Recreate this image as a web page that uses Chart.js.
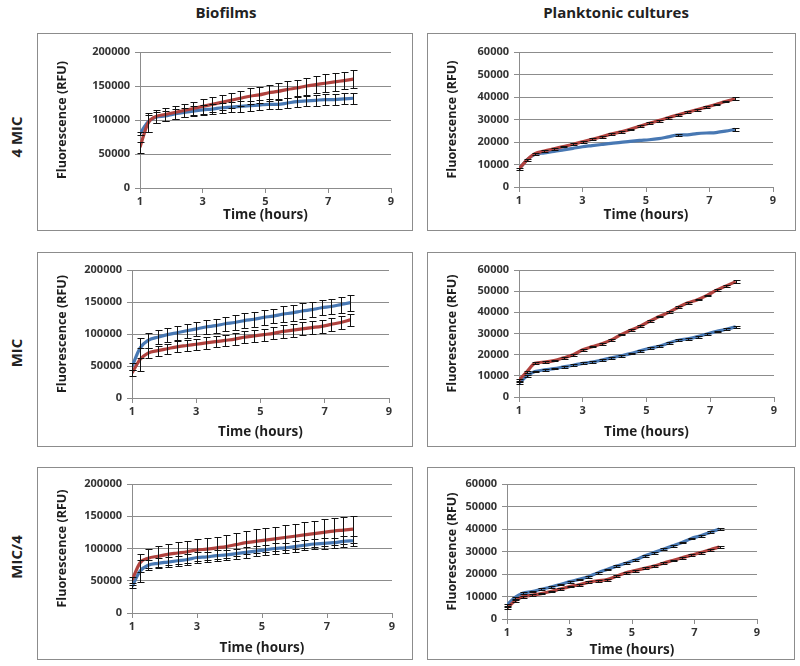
<!DOCTYPE html>
<html><head><meta charset="utf-8">
<script src="https://cdn.jsdelivr.net/npm/chart.js@4/dist/chart.umd.min.js"></script>
<style>
body{margin:0;width:800px;height:666px;background:#fff;position:relative;overflow:hidden;font-family:"Open Sans",sans-serif;}
.box{position:absolute;border:1px solid #8c8c8c;box-sizing:border-box;background:#fff;}
.box canvas{position:absolute;left:0;top:0;}
.hdr{position:absolute;font-weight:700;font-size:15px;color:#222;transform:translate(-50%,-50%);white-space:nowrap;}
.row{position:absolute;font-weight:700;font-size:15px;color:#222;transform:translate(-50%,-50%) rotate(-90deg);white-space:nowrap;}
</style></head>
<body>
<div class="hdr" style="left:226px;top:12px">Biofilms</div>
<div class="hdr" style="left:616px;top:12px">Planktonic cultures</div>
<div class="row" style="left:16px;top:137px">4 MIC</div>
<div class="row" style="left:16px;top:353px">MIC</div>
<div class="row" style="left:16px;top:557px">MIC/4</div>
<script>
// ---- data ----
const hours = [1.0,1.25,1.5,1.8,2.1,2.4,2.7,3.0,3.3,3.6,3.9,4.2,4.5,4.8,5.1,5.4,5.7,6.0,6.3,6.6,6.9,7.2,7.5,7.8];
const xTicks = [1,3,5,7,9];
const yTicksBiofilm = [0,50000,100000,150000,200000];
const yTicksPlank = [0,10000,20000,30000,40000,50000,60000];

// Biofilms, 4 MIC
const bio4_red = [60000,95000,105000,108000,111000,114000,117000,120000,123000,126000,129000,132000,135000,137000,140000,142000,145000,147000,150000,152000,154000,156000,158000,160000];
const bio4_redErr = [8000,12000,10000,9000,9500,10000,10000,10500,10500,11000,11000,11000,11500,11500,12000,12000,12000,12500,12500,13000,13000,13000,13000,13000];
const bio4_blue = [80000,97000,104000,106000,109000,111000,113000,115000,116000,118000,119000,120000,121000,122000,123000,123000,125000,127000,128000,129000,130000,130000,131000,132000];
const bio4_blueErr = [2000,14000,8000,7000,7000,7000,7000,7000,7000,7000,7500,7500,7500,7500,7500,7500,8000,8000,8000,8000,8000,8000,8000,8000];

// Planktonic, 4 MIC
const pl4_red = [8000,12000,14800,16000,17000,18000,19000,20100,21200,22300,23500,24500,25600,27000,28300,29500,30800,32000,33200,34300,35500,36700,38000,39200];
const pl4_redErr = [400,500,400,400,400,400,400,400,400,400,400,400,400,400,400,400,400,400,400,400,400,400,400,600];
const pl4_blue = [8000,12000,14500,15200,15800,16500,17200,17900,18400,18900,19400,19800,20300,20700,21000,21500,22300,23100,23200,23700,24000,24200,24800,25600];
const pl4_blueErr = [0,0,0,0,0,0,0,0,0,0,0,0,0,0,0,0,0,400,0,0,0,0,0,500];

// Biofilms, MIC
const bioM_blue = [49000,78000,90000,95000,99000,102000,105000,108000,111000,113000,116000,118000,121000,123000,126000,128000,131000,133000,136000,138000,141000,143000,146000,149000];
const bioM_blueErr = [5000,15000,12000,11000,11000,11000,11000,11000,11000,11000,11000,11000,11500,11500,11500,11500,12000,12000,12000,12000,12000,12000,12500,12500];
const bioM_red = [39000,60000,70000,74000,77000,80000,82000,84000,86000,88000,90000,92000,95000,97000,99000,101000,104000,106000,108000,110000,112000,115000,118000,122000];
const bioM_redErr = [4000,18000,8000,8000,8000,8500,8500,8500,9000,9000,9000,9000,9500,9500,9500,9500,10000,10000,10000,10000,10000,10000,10000,10000];

// Planktonic, MIC
const plM_red = [8000,12000,15900,16500,17200,18500,20000,22300,23800,25200,27000,29500,31500,33500,35800,38000,40000,42400,44500,46000,48000,50500,52500,54500];
const plM_redErr = [400,500,500,400,400,400,400,400,400,400,400,400,400,400,400,400,400,400,400,400,400,400,400,600];
const plM_blue = [6500,10000,12000,12800,13400,14200,15000,15900,16500,17500,18500,19500,20500,21800,23000,24000,25500,26800,27500,28500,29800,31000,32000,33200];
const plM_blueErr = [400,400,400,400,400,400,400,400,400,400,400,400,400,400,400,400,400,400,400,400,400,400,400,500];

// Biofilms, MIC/4
const bioQ_red = [51000,78000,85000,88000,91000,93000,95000,97700,99000,101000,103000,106000,109000,111000,113000,115000,117000,119000,121000,123000,125000,127000,128500,130000];
const bioQ_redErr = [5000,14000,15000,16000,16000,16500,17000,17000,17500,17500,18000,18000,18000,18500,18500,19000,19000,19500,20000,20000,20500,21000,21000,21000];
const bioQ_blue = [41000,65000,74000,77000,79000,81000,83000,86000,87000,89000,90000,92000,94000,96000,98000,100000,101000,103000,105000,107000,108000,109000,111000,112000];
const bioQ_blueErr = [3000,17000,8000,8000,8000,8000,8000,8000,8000,8000,8000,8000,8000,8000,8000,8000,8000,8000,8000,8000,8000,8000,8000,8000];

// Planktonic, MIC/4
const plQ_blue = [6200,9500,11400,12200,13200,14200,15300,16600,17600,18800,20500,22000,23500,24800,26200,28000,29500,31000,32500,34000,35800,37000,38500,40000];
const plQ_blueErr = [500,500,500,400,400,400,400,400,400,400,400,400,400,400,400,400,400,400,400,400,400,400,400,500];
const plQ_red = [4800,8000,9900,10600,11300,12200,13300,14400,15200,16300,17000,17500,19000,20500,21500,22500,23500,24800,26000,27200,28400,29500,30800,32000];
const plQ_redErr = [400,500,400,400,400,400,400,400,400,400,400,400,400,400,400,400,400,400,400,400,400,400,400,500];

// ---- layout / style ----
const RED = '#b0423e', BLUE = '#4878b3', GRID = '#8c8c8c', TICK = '#333333', TITLE = '#1e1e1e';
const FONT = '"Open Sans", sans-serif';

const panels = [
  {box:[37,33,376,198], area:[140,52,391,188], yTicks:yTicksBiofilm, ymax:200000, xTitleUp:16,
   red:bio4_red, redErr:bio4_redErr, blue:bio4_blue, blueErr:bio4_blueErr},
  {box:[427,33,369,198], area:[519,52,773,187], yTicks:yTicksPlank, ymax:60000, xTitleUp:16,
   red:pl4_red, redErr:pl4_redErr, blue:pl4_blue, blueErr:pl4_blueErr},
  {box:[37,252,376,195], area:[132,270,389,398], yTicks:yTicksBiofilm, ymax:200000, xTitleUp:15,
   red:bioM_red, redErr:bioM_redErr, blue:bioM_blue, blueErr:bioM_blueErr},
  {box:[427,252,369,195], area:[519,270,774,397], yTicks:yTicksPlank, ymax:60000, xTitleUp:15,
   red:plM_red, redErr:plM_redErr, blue:plM_blue, blueErr:plM_blueErr},
  {box:[37,467,376,193], area:[132,484,392,613], yTicks:yTicksBiofilm, ymax:200000, xTitleUp:12,
   red:bioQ_red, redErr:bioQ_redErr, blue:bioQ_blue, blueErr:bioQ_blueErr},
  {box:[427,467,368,193], area:[507,484,757,619], yTicks:yTicksPlank, ymax:60000, xTitleUp:10,
   red:plQ_red, redErr:plQ_redErr, blue:plQ_blue, blueErr:plQ_blueErr}
];

const errorBars = {
  id:'errorBars',
  afterDatasetsDraw(chart){
    const {ctx, scales:{x, y}} = chart;
    ctx.save();
    ctx.strokeStyle = '#111';
    ctx.lineWidth = 1;
    chart.data.datasets.forEach(ds => {
      ds.data.forEach((p, i) => {
        const e = ds.err[i];
        if (!e) return;
        const px = Math.round(x.getPixelForValue(p.x)) + 0.5;
        const y1 = Math.round(y.getPixelForValue(p.y + e)) + 0.5;
        const y2 = Math.round(y.getPixelForValue(p.y - e)) + 0.5;
        ctx.beginPath();
        ctx.moveTo(px, y1); ctx.lineTo(px, y2);
        ctx.moveTo(px - 3, y1); ctx.lineTo(px + 4, y1);
        ctx.moveTo(px - 3, y2); ctx.lineTo(px + 4, y2);
        ctx.stroke();
      });
    });
    ctx.restore();
  }
};

panels.forEach(p => {
  const [bx, by, bw, bh] = p.box;
  const div = document.createElement('div');
  div.className = 'box';
  Object.assign(div.style, {left:bx+'px', top:by+'px', width:bw+'px', height:bh+'px'});
  const cw = bw - 2, ch = bh - 2;
  const cv = document.createElement('canvas');
  cv.width = cw; cv.height = ch;
  cv.style.width = cw + 'px'; cv.style.height = ch + 'px';
  div.appendChild(cv);
  document.body.appendChild(div);
  const ox = bx + 1, oy = by + 1;
  const L = p.area[0] - ox, T = p.area[1] - oy, R = cw - (p.area[2] - ox), B = ch - (p.area[3] - oy);
  const tickFont = {family:FONT, size:11, weight:'700'};
  const xTitleFont = {family:FONT, size:13.5, weight:'700'};
  const yTitleFont = {family:FONT, size:12.5, weight:'700'};
  const mk = vals => hours.map((h, i) => ({x:h, y:vals[i]}));
  new Chart(cv, {
    type:'line',
    data:{datasets:[
      {data:mk(p.red), err:p.redErr, borderColor:RED, borderWidth:3.2, pointRadius:0, tension:0.4, cubicInterpolationMode:'monotone', fill:false},
      {data:mk(p.blue), err:p.blueErr, borderColor:BLUE, borderWidth:3.2, pointRadius:0, tension:0.4, cubicInterpolationMode:'monotone', fill:false}
    ]},
    options:{
      responsive:false, animation:false, events:[],
      plugins:{legend:{display:false}, tooltip:{enabled:false}},
      layout:{padding:{left:0, top:T, right:R, bottom:0}},
      scales:{
        x:{type:'linear', min:1, max:9,
           afterBuildTicks:s => { s.ticks = xTicks.map(v => ({value:v})); },
           afterFit:s => { s.height = B; },
           grid:{drawOnChartArea:false, tickLength:5, color:GRID, tickColor:GRID},
           border:{color:GRID, width:1},
           ticks:{font:tickFont, color:TICK, padding:2, maxRotation:0, callback:v => String(v)},
           title:{display:true, text:'Time (hours)', font:xTitleFont, color:TITLE, padding:{top:0, bottom:p.xTitleUp - 9}}},
        y:{type:'linear', min:0, max:p.ymax,
           afterBuildTicks:s => { s.ticks = p.yTicks.map(v => ({value:v})); },
           afterFit:s => { s.width = L; },
           grid:{color:GRID, tickLength:5, tickColor:GRID},
           border:{color:GRID, width:1},
           ticks:{font:tickFont, color:TICK, padding:5, callback:v => String(v)},
           title:{display:true, text:'Fluorescence (RFU)', font:yTitleFont, color:TITLE, padding:{top:17, bottom:0}}}
      }
    },
    plugins:[errorBars]
  });
});
</script>
</body></html>
